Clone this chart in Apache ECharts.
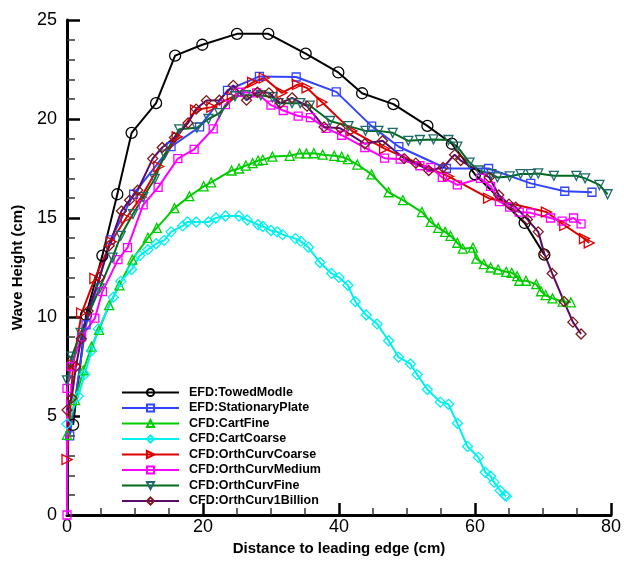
<!DOCTYPE html>
<html lang="en">
<head>
    <meta charset="utf-8">
    <title>Wave Height</title>
    <script src="https://cdn.jsdelivr.net/npm/echarts@6.0.0/dist/echarts.min.js"></script>
</head>
<body style="margin:0">
<div id="pic1" style="width:624px;height:561px;"></div>

<script>
    // 数据: [x(cm), 波高(cm)]
    var towedModle = [[0.9, 4.55], [2.8, 10.1], [5.2, 13.1], [7.4, 16.2], [9.5, 19.3], [13.1, 20.8], [15.9, 23.2], [19.9, 23.75], [25.0, 24.3], [29.6, 24.3], [35.1, 23.3], [39.9, 22.35], [43.4, 21.3], [48.0, 20.75], [53.0, 19.65], [56.6, 18.75], [60.0, 17.2], [67.3, 14.75], [70.2, 13.15]];
    var stationaryPlate = [[0.4, 4.0], [2.8, 9.6], [6.4, 13.9], [9.8, 16.2], [15.3, 18.6], [19.5, 19.6], [23.6, 21.45], [28.3, 22.15], [33.7, 22.12], [39.6, 21.37], [44.8, 19.64], [48.8, 18.6], [55.8, 17.5], [62.0, 17.5], [68.2, 16.75], [73.2, 16.35], [77.2, 16.3]];
    var cartFine = [[0, 4.05], [1.2, 5.8], [2.4, 7.3], [3.6, 8.5], [4.7, 9.35], [6.2, 10.6], [7.7, 11.6], [9.6, 12.9], [11.9, 14.0], [13.2, 14.5], [15.8, 15.5], [18.0, 16.1], [20.1, 16.6], [21.2, 16.8], [24.2, 17.4], [25.3, 17.5], [26.3, 17.65], [27.3, 17.77], [28.1, 17.9], [28.8, 17.94], [30.2, 18.1], [32.75, 18.14], [34.2, 18.26], [35.2, 18.26], [36.3, 18.27], [37.6, 18.2], [39.3, 18.14], [40.4, 18.09], [41.3, 17.97], [42.7, 17.7], [44.8, 17.2], [47.3, 16.3], [49.4, 15.9], [52.2, 15.3], [53.5, 14.8], [54.6, 14.5], [55.6, 14.3], [56.4, 14.1], [57.4, 13.75], [58.2, 13.45], [59.7, 13.5], [60.2, 12.95], [61.3, 12.67], [62.3, 12.5], [63.4, 12.4], [64.6, 12.28], [65.4, 12.23], [66.2, 12.06], [66.5, 11.83], [67.5, 11.83], [69.0, 11.66], [69.7, 11.3], [70.4, 11.1], [71.4, 10.94], [72.9, 10.78], [74.1, 10.74]];
    var cartCoarse = [[0, 4.6], [1.66, 6.0], [2.6, 7.1], [3.6, 8.3], [4.6, 9.4], [6.8, 11.0], [7.9, 11.8], [9.5, 12.4], [10.7, 13.1], [11.9, 13.4], [13.1, 13.7], [14.3, 13.87], [15.3, 14.3], [17.0, 14.6], [17.7, 14.8], [19.0, 14.8], [20.8, 14.8], [21.9, 15.0], [23.3, 15.1], [25.3, 15.1], [26.5, 14.9], [28.1, 14.66], [28.8, 14.57], [30.0, 14.37], [30.9, 14.3], [31.7, 14.16], [33.6, 13.96], [34.4, 13.82], [35.5, 13.52], [37.2, 12.75], [38.9, 12.2], [40.0, 12.0], [41.3, 11.6], [42.4, 10.78], [44.0, 10.1], [45.6, 9.65], [47.3, 8.8], [48.75, 7.97], [50.5, 7.63], [51.5, 7.09], [53.0, 6.34], [54.9, 5.7], [56.1, 5.59], [57.4, 4.63], [58.9, 3.46], [60.5, 2.91], [61.5, 2.16], [62.3, 1.96], [62.8, 1.66], [63.7, 1.24], [64.4, 0.99], [64.6, 0.95]];
    var orthCurvCoarse = [[0, 2.8], [0.9, 7.6], [2.15, 10.2], [4.1, 11.95], [6.5, 13.8], [8.7, 15.0], [10.9, 16.05], [13.5, 17.6], [16.2, 19.1], [18.9, 20.45], [21.3, 20.6], [24.3, 21.1], [27.3, 21.85], [29.0, 22.07], [31.6, 21.32], [33.9, 21.74], [35.3, 21.57], [37.5, 20.85], [41.9, 19.4], [46.7, 18.5], [56.1, 17.1], [62.0, 16.0], [70.5, 15.3], [73.2, 14.62], [76.1, 13.96], [76.8, 13.74]];
    var orthCurvMedium = [[0, 0], [0, 6.4], [0.6, 7.5], [2.15, 9.0], [4.1, 9.94], [5.2, 11.28], [7.5, 12.9], [8.9, 13.5], [11.2, 15.66], [13.4, 16.55], [16.3, 18.0], [18.7, 18.47], [21.5, 19.5], [23.3, 20.73], [25.4, 21.35], [27.9, 21.32], [30.0, 20.7], [31.8, 20.43], [34.0, 20.15], [35.8, 20.07], [38.1, 19.53], [40.4, 19.18], [43.8, 18.56], [46.7, 18.02], [49.0, 17.97], [51.9, 17.64], [53.5, 17.55], [55.2, 17.05], [57.4, 16.67], [60.8, 17.0], [62.3, 16.6], [63.6, 15.83], [65.1, 15.55], [66.5, 15.3], [68.2, 15.26], [71.1, 15.0], [72.8, 14.84], [74.5, 15.0], [75.6, 14.7]];
    var orthCurvFine = [[0, 6.8], [0.7, 8.0], [2.0, 9.2], [4.8, 11.45], [6.7, 13.0], [7.9, 14.1], [9.7, 15.2], [11.2, 16.05], [12.9, 16.97], [14.35, 18.2], [16.5, 19.48], [19.1, 19.56], [20.8, 20.0], [22.4, 20.3], [24.7, 21.15], [26.3, 21.2], [28.5, 21.2], [30.2, 21.1], [31.1, 20.8], [33.1, 20.8], [34.3, 20.8], [35.7, 20.68], [38.7, 19.9], [41.4, 19.64], [43.9, 19.4], [45.8, 19.4], [47.9, 19.3], [50.2, 18.9], [51.9, 18.94], [53.9, 18.97], [56.1, 18.94], [57.4, 18.6], [59.2, 17.8], [60.6, 17.4], [62.4, 17.22], [63.3, 17.05], [65.1, 17.1], [66.7, 17.22], [68.2, 17.22], [69.3, 17.25], [71.6, 17.13], [74.9, 17.13], [76.2, 17.0], [78.3, 16.67], [79.5, 16.2]];
    var orthCurv1Billion = [[0, 5.3], [0.7, 5.9], [1.3, 7.5], [2.1, 8.9], [3.1, 10.3], [4.8, 12.0], [6.2, 13.6], [8.0, 15.35], [9.2, 15.9], [10.4, 16.4], [12.6, 18.0], [14.0, 18.56], [15.8, 19.06], [17.8, 19.8], [19.0, 20.5], [20.5, 20.93], [22.4, 20.95], [24.45, 21.7], [26.4, 20.95], [28.0, 21.35], [29.7, 21.32], [31.4, 20.8], [33.1, 21.07], [35.3, 20.65], [37.8, 19.6], [40.2, 19.53], [43.8, 18.75], [46.4, 18.9], [49.6, 18.0], [51.3, 17.77], [53.2, 17.4], [55.3, 17.55], [57.0, 18.2], [57.9, 17.9], [62.1, 17.05], [63.5, 16.16], [65.0, 15.7], [66.0, 15.55], [67.7, 14.93], [69.3, 14.3], [70.2, 13.2], [71.35, 12.2], [73.1, 10.78], [74.4, 9.74], [75.6, 9.14]];

    var xTicks = [0, 20, 40, 60, 80];
    var yTicks = [0, 5, 10, 15, 20, 25];

    window.onload = function () {
        var mCharts = echarts.init(document.getElementById('pic1'));

        // 生成一条折线系列 (空心符号)
        function makeSeries(name, data, lineColor, markColor, symbol, size, rotate) {
            return {
                name: name,
                type: 'line',
                data: data,
                symbol: symbol,
                symbolSize: size,
                symbolRotate: rotate || 0,
                showAllSymbol: true,
                animation: false,
                lineStyle: { color: lineColor, width: 2 },
                itemStyle: { color: 'rgba(255,255,255,0)', borderColor: markColor, borderWidth: 1.3 }
            };
        }

        var option = {
            animation: false,
            grid: { left: 67, right: 10, top: 20, bottom: 42 },
            legend: {
                orient: 'vertical',
                left: 121,
                top: 386,
                padding: 0,
                itemWidth: 57,
                itemHeight: 9,
                itemGap: 2.5,
                textStyle: { fontFamily: 'Liberation Sans, Arial', fontWeight: 'bold', fontSize: 12.5, color: '#000', padding: [0, 0, 0, 5] },
                data: ['EFD:TowedModle', 'EFD:StationaryPlate', 'CFD:CartFine', 'CFD:CartCoarse', 'CFD:OrthCurvCoarse', 'CFD:OrthCurvMedium', 'CFD:OrthCurvFine', 'CFD:OrthCurv1Billion']
            },
            xAxis: {
                type: 'value',
                min: xTicks[0],
                max: xTicks[xTicks.length - 1],
                interval: 20,
                name: 'Distance to leading edge (cm)',
                nameLocation: 'middle',
                nameGap: 26,
                nameTextStyle: { fontFamily: 'Liberation Sans, Arial', fontWeight: 'bold', fontSize: 15, color: '#000' },
                axisLine: { lineStyle: { color: '#000', width: 3 } },
                axisTick: { inside: true, length: 12, lineStyle: { width: 2.5, color: '#000' } },
                minorTick: { show: true, splitNumber: 4, length: 7, lineStyle: { width: 1.5, color: '#333' } },
                axisLabel: { margin: 3, fontFamily: 'Liberation Sans, Arial', fontSize: 18, color: '#000' },
                splitLine: { show: false }
            },
            yAxis: {
                type: 'value',
                min: yTicks[0],
                max: yTicks[yTicks.length - 1],
                interval: 5,
                name: 'Wave Height (cm)',
                nameLocation: 'middle',
                nameGap: 42,
                nameTextStyle: { fontFamily: 'Liberation Sans, Arial', fontWeight: 'bold', fontSize: 15, color: '#000' },
                axisLine: { lineStyle: { color: '#000', width: 3 } },
                axisTick: { inside: true, length: 13, lineStyle: { width: 2.5, color: '#000' } },
                minorTick: { show: true, splitNumber: 5, length: 8, lineStyle: { width: 1.5, color: '#333' } },
                axisLabel: { margin: 10, fontFamily: 'Liberation Sans, Arial', fontSize: 18, color: '#000' },
                splitLine: { show: false }
            },
            series: [
                makeSeries('EFD:TowedModle', towedModle, '#000000', '#000000', 'circle', 11),
                makeSeries('EFD:StationaryPlate', stationaryPlate, '#3344ff', '#3344ff', 'rect', 8),
                makeSeries('CFD:CartFine', cartFine, '#00cc00', '#00cc00', 'triangle', 9),
                makeSeries('CFD:CartCoarse', cartCoarse, '#00f0f0', '#00f0f0', 'diamond', 10),
                makeSeries('CFD:OrthCurvCoarse', orthCurvCoarse, '#dd0000', '#dd0000', 'triangle', 10, -90),
                makeSeries('CFD:OrthCurvMedium', orthCurvMedium, '#ff00ff', '#ff00ff', 'rect', 8),
                makeSeries('CFD:OrthCurvFine', orthCurvFine, '#006a1a', '#1f6a6a', 'triangle', 9, 180),
                makeSeries('CFD:OrthCurv1Billion', orthCurv1Billion, '#5a0a6a', '#801818', 'diamond', 10)
            ]
        };

        mCharts.setOption(option);
    };
</script>

</body>
</html>
